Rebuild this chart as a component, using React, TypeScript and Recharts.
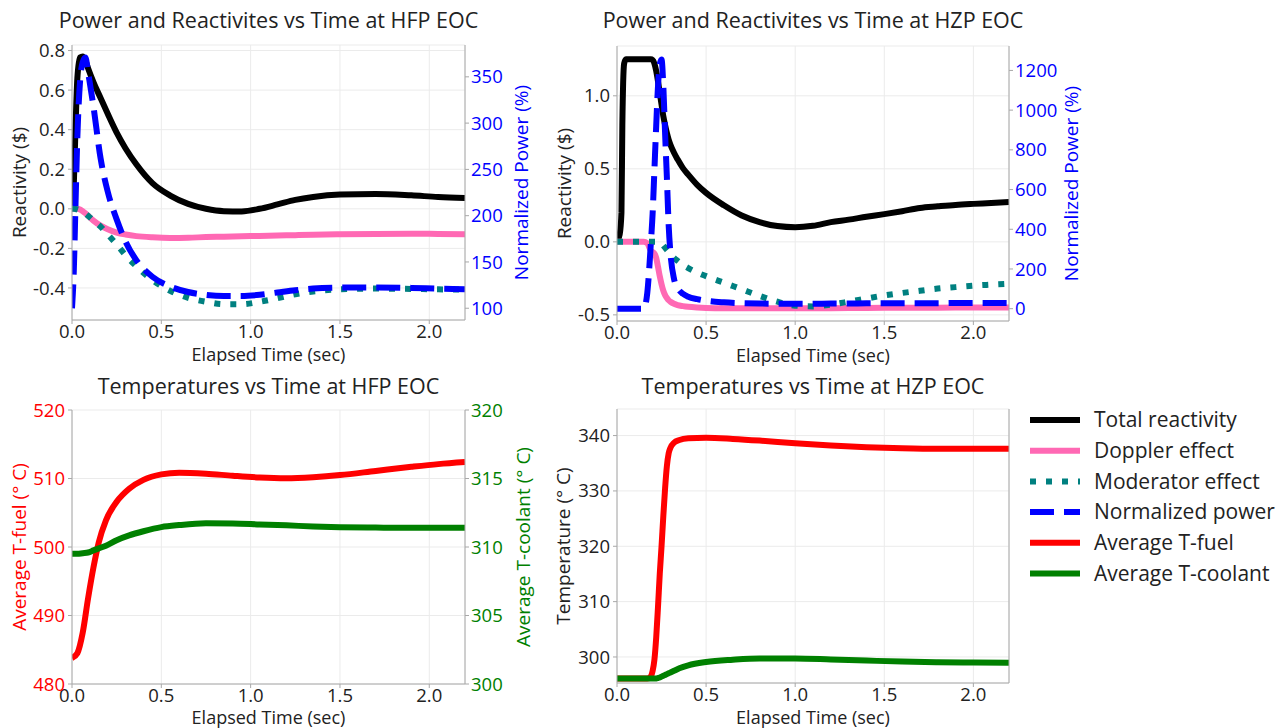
import React from "react";
import { LineChart, Line, XAxis, YAxis, CartesianGrid } from "recharts";

const FONT = '"Open Sans", sans-serif';
const GRID = "#ebebeb";
const FRAME = "#a8a8a8";
const INK = "#222222";

const timeTicks = [0, 0.5, 1.0, 1.5, 2.0];

// ---- HFP EOC: reactivities ($) and normalized power (%)
const hfpTime = [0, 0.01, 0.02, 0.03, 0.045, 0.06, 0.075, 0.09, 0.12, 0.16, 0.2, 0.25, 0.3, 0.36, 0.45, 0.55, 0.65, 0.75, 0.85, 0.95, 1.05, 1.15, 1.25, 1.35, 1.5, 1.7, 1.9, 2.05, 2.2];
const hfpTotal = [0, 0.12, 0.42, 0.66, 0.765, 0.77, 0.75, 0.71, 0.64, 0.56, 0.48, 0.385, 0.305, 0.225, 0.13, 0.067, 0.025, 0.0, -0.012, -0.013, 0.0, 0.022, 0.045, 0.06, 0.072, 0.075, 0.068, 0.06, 0.055];
const hfpDoppler = [0, 0, 0, 0, -0.004, -0.012, -0.022, -0.035, -0.06, -0.085, -0.103, -0.12, -0.13, -0.138, -0.144, -0.147, -0.146, -0.143, -0.141, -0.139, -0.137, -0.135, -0.133, -0.131, -0.129, -0.127, -0.126, -0.127, -0.128];
const hfpModerator = [0, 0, -0.001, -0.003, -0.008, -0.015, -0.024, -0.035, -0.06, -0.09, -0.13, -0.18, -0.235, -0.29, -0.36, -0.415, -0.45, -0.47, -0.482, -0.482, -0.47, -0.452, -0.432, -0.418, -0.407, -0.403, -0.405, -0.407, -0.408];
const hfpPower = [100, 140, 215, 285, 345, 366, 371, 355, 318, 262, 226, 196, 172, 152, 134, 123.5, 117.5, 114.5, 113.3, 113.3, 114.5, 117, 119.5, 121.3, 122.3, 122.5, 122, 121.2, 120.6];

// ---- HZP EOC: reactivities ($) and normalized power (%)
const hzpTime = [0, 0.015, 0.025, 0.03, 0.04, 0.05, 0.1, 0.15, 0.17, 0.19, 0.2, 0.21, 0.22, 0.23, 0.24, 0.25, 0.26, 0.27, 0.28, 0.29, 0.3, 0.32, 0.34, 0.37, 0.4, 0.45, 0.5, 0.6, 0.7, 0.8, 0.9, 1.0, 1.1, 1.2, 1.3, 1.4, 1.5, 1.6, 1.7, 1.8, 1.9, 2.0, 2.1, 2.2];
const hzpTotal = [0, 0.05, 0.2, 0.8, 1.22, 1.25, 1.25, 1.25, 1.25, 1.25, 1.245, 1.22, 1.17, 1.1, 1.02, 0.94, 0.86, 0.8, 0.745, 0.7, 0.665, 0.61, 0.565, 0.505, 0.46, 0.39, 0.335, 0.25, 0.18, 0.135, 0.108, 0.1, 0.11, 0.135, 0.152, 0.172, 0.19, 0.21, 0.232, 0.243, 0.253, 0.26, 0.266, 0.272];
const hzpDoppler = [0, 0, 0, 0, 0, 0, 0, 0, -0.01, -0.06, -0.07, -0.08, -0.11, -0.17, -0.235, -0.29, -0.335, -0.365, -0.385, -0.4, -0.41, -0.424, -0.433, -0.44, -0.445, -0.45, -0.453, -0.455, -0.455, -0.455, -0.455, -0.455, -0.454, -0.454, -0.453, -0.453, -0.452, -0.452, -0.451, -0.451, -0.45, -0.45, -0.45, -0.45];
const hzpModerator = [0, 0, 0, 0, 0, 0, 0, 0, 0, 0, 0, 0, 0, 0, 0, -0.01, -0.025, -0.04, -0.055, -0.07, -0.085, -0.11, -0.13, -0.158, -0.18, -0.21, -0.235, -0.28, -0.325, -0.37, -0.41, -0.437, -0.442, -0.43, -0.41, -0.388, -0.367, -0.35, -0.335, -0.32, -0.31, -0.3, -0.293, -0.287];
const hzpPower = [0, 0, 0, 0, 0, 0, 0, 0, 80, 330, 480, 700, 920, 1120, 1230, 1255, 1120, 880, 660, 420, 280, 150, 105, 75, 60, 48, 40, 32, 28, 26, 25, 25, 25, 26, 26, 27, 27, 28, 28, 28, 29, 29, 29, 29];

// ---- HFP EOC: temperatures (C)
const hfpTempTime = [0, 0.03, 0.06, 0.09, 0.12, 0.15, 0.19, 0.25, 0.32, 0.4, 0.5, 0.6, 0.75, 0.9, 1.05, 1.2, 1.35, 1.5, 1.7, 1.9, 2.05, 2.2];
const hfpFuel = [483.8, 484.5, 487.5, 492.5, 497, 500.7, 503.9, 506.6, 508.5, 509.8, 510.6, 510.85, 510.7, 510.4, 510.15, 510.05, 510.2, 510.5, 511.1, 511.7, 512.1, 512.4];
const hfpCoolant = [309.5, 309.5, 309.55, 309.6, 309.75, 309.9, 310.1, 310.5, 310.85, 311.15, 311.45, 311.6, 311.73, 311.72, 311.65, 311.58, 311.5, 311.45, 311.42, 311.4, 311.4, 311.4];

// ---- HZP EOC: temperatures (C)
const hzpTempTime = [0, 0.1, 0.17, 0.19, 0.2, 0.21, 0.22, 0.23, 0.24, 0.25, 0.26, 0.27, 0.28, 0.29, 0.3, 0.32, 0.35, 0.4, 0.5, 0.65, 0.8, 1.0, 1.2, 1.4, 1.6, 1.8, 2.0, 2.2];
const hzpFuel = [296.1, 296.1, 296.1, 296.5, 297.5, 299.5, 303.5, 309, 315, 320, 325.5, 330.5, 334.5, 336.8, 337.8, 338.7, 339.2, 339.5, 339.6, 339.4, 339.1, 338.6, 338.2, 337.9, 337.7, 337.6, 337.6, 337.6];
const hzpCoolant = [296.1, 296.1, 296.1, 296.1, 296.1, 296.1, 296.12, 296.2, 296.3, 296.45, 296.6, 296.75, 296.9, 297.05, 297.2, 297.5, 297.95, 298.5, 299.1, 299.5, 299.72, 299.72, 299.55, 299.35, 299.18, 299.06, 299.0, 298.95];

const hfpData = hfpTime.map((t, i) => ({ t, total: hfpTotal[i], doppler: hfpDoppler[i], moderator: hfpModerator[i], power: hfpPower[i] }));
const hzpData = hzpTime.map((t, i) => ({ t, total: hzpTotal[i], doppler: hzpDoppler[i], moderator: hzpModerator[i], power: hzpPower[i] }));
const hfpTempData = hfpTempTime.map((t, i) => ({ t, fuel: hfpFuel[i], coolant: hfpCoolant[i] }));
const hzpTempData = hzpTempTime.map((t, i) => ({ t, fuel: hzpFuel[i], coolant: hzpCoolant[i] }));

const SERIES: Record<string, { name: string; color: string; dash?: string }> = {
  total: { name: "Total reactivity", color: "#000000" },
  doppler: { name: "Doppler effect", color: "#ff69b4" },
  moderator: { name: "Moderator effect", color: "#008080", dash: "6 10" },
  power: { name: "Normalized power", color: "#0000ff", dash: "24 10" },
  fuel: { name: "Average T-fuel", color: "#ff0000" },
  coolant: { name: "Average T-coolant", color: "#008000" },
};

interface AxisDef {
  domain: [number, number];
  ticks: number[];
  digits: number;
  label: string;
  color: string;
  width: number;
  labelOffset: number;
}

interface PanelProps {
  left: number;
  top: number;
  width: number;
  height: number;
  marginTop: number;
  xHeight: number;
  xLabelOffset: number;
  title: string;
  titleTop: number;
  data: any[];
  leftKeys: string[];
  rightKeys: string[];
  leftAxis: AxisDef;
  rightAxis?: AxisDef;
}

function Panel(p: PanelProps) {
  const rightWidth = p.rightAxis ? p.rightAxis.width : 10;
  const plotLeft = p.left + p.leftAxis.width;
  const plotWidth = p.width - p.leftAxis.width - rightWidth;
  const tickFont = { fontSize: 18.5, fontFamily: FONT };
  const yLabelStyle = { textAnchor: "middle" as const, fontSize: 19, fontFamily: FONT };
  const xLabelStyle = { textAnchor: "middle" as const, fontSize: 18, fontFamily: FONT };

  return (
    <>
      <div
        style={{
          position: "absolute",
          left: plotLeft - 40,
          top: p.titleTop,
          width: plotWidth + 80,
          textAlign: "center",
          fontSize: 21.5,
          lineHeight: "26px",
          color: INK,
          whiteSpace: "nowrap",
        }}
      >
        {p.title}
      </div>
      <div style={{ position: "absolute", left: p.left, top: p.top }}>
        <LineChart width={p.width} height={p.height} data={p.data} margin={{ top: p.marginTop, right: 0, bottom: 0, left: 0 }}>
          <CartesianGrid stroke={GRID} yAxisId="left" />
          <XAxis
            dataKey="t"
            type="number"
            domain={[0, 2.2]}
            ticks={timeTicks}
            tickFormatter={(v: number) => v.toFixed(1)}
            height={p.xHeight}
            allowDataOverflow
            axisLine={{ stroke: FRAME }}
            tickLine={{ stroke: FRAME }}
            tickSize={4}
            tickMargin={1}
            tick={{ ...tickFont, fill: INK }}
            label={{ value: "Elapsed Time (sec)", position: "insideBottom", offset: p.xLabelOffset, fill: INK, style: xLabelStyle }}
          />
          <XAxis xAxisId="top" orientation="top" dataKey="t" type="number" domain={[0, 2.2]} height={0} tick={false} tickLine={false} axisLine={{ stroke: FRAME }} />
          <YAxis
            yAxisId="left"
            type="number"
            domain={p.leftAxis.domain}
            ticks={p.leftAxis.ticks}
            allowDataOverflow
            width={p.leftAxis.width}
            tickFormatter={(v: number) => v.toFixed(p.leftAxis.digits)}
            axisLine={{ stroke: FRAME }}
            tickLine={{ stroke: FRAME }}
            tickSize={4}
            tickMargin={3}
            tick={{ ...tickFont, fill: p.leftAxis.color }}
            label={{ value: p.leftAxis.label, angle: -90, position: "insideLeft", offset: p.leftAxis.labelOffset, fill: p.leftAxis.color, style: yLabelStyle }}
          />
          {p.rightAxis ? (
            <YAxis
              yAxisId="right"
              orientation="right"
              type="number"
              domain={p.rightAxis.domain}
              ticks={p.rightAxis.ticks}
              allowDataOverflow
              width={p.rightAxis.width}
              tickFormatter={(v: number) => v.toFixed(p.rightAxis!.digits)}
              axisLine={{ stroke: FRAME }}
              tickLine={{ stroke: FRAME }}
              tickSize={4}
              tickMargin={2}
              tick={{ ...tickFont, fill: p.rightAxis.color }}
              label={{ value: p.rightAxis.label, angle: -90, position: "insideRight", offset: p.rightAxis.labelOffset, fill: p.rightAxis.color, style: yLabelStyle }}
            />
          ) : (
            <YAxis yAxisId="right" orientation="right" type="number" domain={p.leftAxis.domain} allowDataOverflow width={10} tick={false} tickLine={false} axisLine={{ stroke: FRAME }} />
          )}
          {p.leftKeys.map((k) => (
            <Line
              key={k}
              yAxisId="left"
              dataKey={k}
              type="monotone"
              stroke={SERIES[k].color}
              strokeWidth={6}
              strokeDasharray={SERIES[k].dash}
              dot={false}
              isAnimationActive={false}
            />
          ))}
          {p.rightKeys.map((k) => (
            <Line
              key={k}
              yAxisId="right"
              dataKey={k}
              type="monotone"
              stroke={SERIES[k].color}
              strokeWidth={6}
              strokeDasharray={SERIES[k].dash}
              dot={false}
              isAnimationActive={false}
            />
          ))}
        </LineChart>
      </div>
    </>
  );
}

const legendKeys = ["total", "doppler", "moderator", "power", "fuel", "coolant"];

function LegendBox() {
  return (
    <svg style={{ position: "absolute", left: 1020, top: 400 }} width={263} height={190}>
      {legendKeys.map((k, i) => {
        const y = 20 + i * 30.7;
        return (
          <g key={k}>
            <line x1={10} x2={60} y1={y} y2={y} stroke={SERIES[k].color} strokeWidth={6} strokeDasharray={SERIES[k].dash} />
            <text x={74} y={y} dy="0.35em" fontSize={21} fontFamily={FONT} fill={INK}>
              {SERIES[k].name}
            </text>
          </g>
        );
      })}
    </svg>
  );
}

export default function App() {
  return (
    <div style={{ position: "absolute", left: 0, top: 0, width: 1283, height: 728, background: "#fff", overflow: "hidden", fontFamily: FONT }}>
      <Panel
        left={0}
        top={0}
        width={540}
        height={370}
        marginTop={45}
        xHeight={50}
        xLabelOffset={9}
        title="Power and Reactivites vs Time at HFP EOC"
        titleTop={7}
        data={hfpData}
        leftKeys={["total", "doppler", "moderator"]}
        rightKeys={["power"]}
        leftAxis={{ domain: [-0.562, 0.828], ticks: [-0.4, -0.2, 0, 0.2, 0.4, 0.6, 0.8], digits: 1, label: "Reactivity ($)", color: INK, width: 72, labelOffset: 19 }}
        rightAxis={{ domain: [87.3, 384.4], ticks: [100, 150, 200, 250, 300, 350], digits: 0, label: "Normalized Power (%)", color: "#0000ff", width: 75, labelOffset: 19 }}
      />
      <Panel
        left={545}
        top={0}
        width={539}
        height={370}
        marginTop={46}
        xHeight={49}
        xLabelOffset={8}
        title="Power and Reactivites vs Time at HZP EOC"
        titleTop={7}
        data={hzpData}
        leftKeys={["total", "doppler", "moderator"]}
        rightKeys={["power"]}
        leftAxis={{ domain: [-0.542, 1.341], ticks: [-0.5, 0, 0.5, 1.0], digits: 1, label: "Reactivity ($)", color: INK, width: 72, labelOffset: 19 }}
        rightAxis={{ domain: [-62, 1323], ticks: [0, 200, 400, 600, 800, 1000, 1200], digits: 0, label: "Normalized Power (%)", color: "#0000ff", width: 75, labelOffset: 13 }}
      />
      <Panel
        left={0}
        top={365}
        width={540}
        height={363}
        marginTop={45}
        xHeight={44}
        xLabelOffset={4}
        title="Temperatures vs Time at HFP EOC"
        titleTop={373}
        data={hfpTempData}
        leftKeys={["fuel"]}
        rightKeys={["coolant"]}
        leftAxis={{ domain: [480, 520], ticks: [480, 490, 500, 510, 520], digits: 0, label: "Average T-fuel (° C)", color: "#ff0000", width: 72, labelOffset: 19 }}
        rightAxis={{ domain: [300, 320], ticks: [300, 305, 310, 315, 320], digits: 0, label: "Average T-coolant (° C)", color: "#008000", width: 75, labelOffset: 17 }}
      />
      <Panel
        left={545}
        top={365}
        width={474}
        height={363}
        marginTop={44}
        xHeight={45}
        xLabelOffset={4}
        title="Temperatures vs Time at HZP EOC"
        titleTop={373}
        data={hzpTempData}
        leftKeys={["fuel", "coolant"]}
        rightKeys={[]}
        leftAxis={{ domain: [295.3, 344.8], ticks: [300, 310, 320, 330, 340], digits: 0, label: "Temperature (° C)", color: INK, width: 72, labelOffset: 18 }}
      />
      <LegendBox />
    </div>
  );
}
